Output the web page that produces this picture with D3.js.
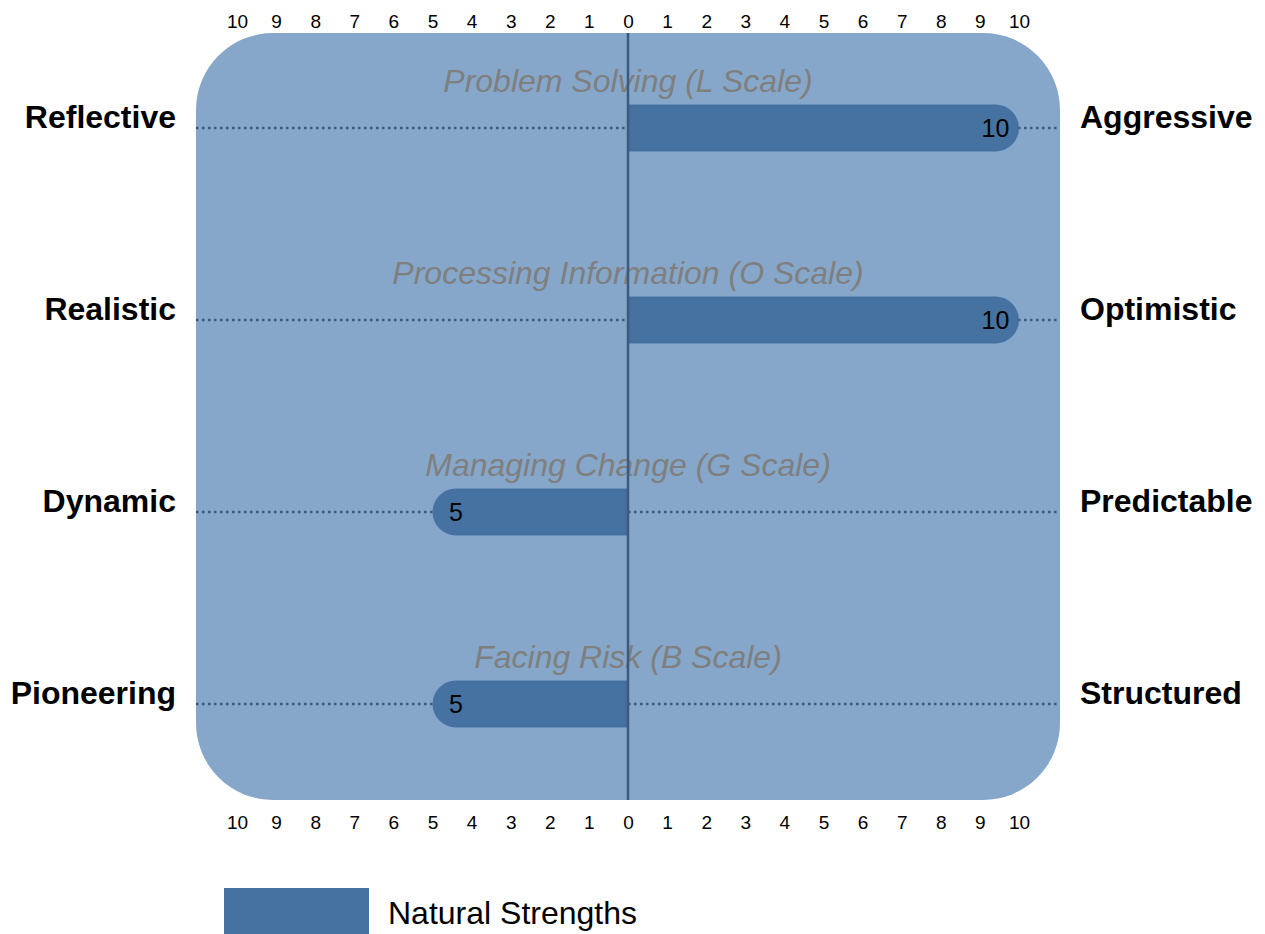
<!DOCTYPE html>
<html>
<head>
<meta charset="utf-8">
<script src="https://cdn.jsdelivr.net/npm/d3@7"></script>
<style>
	body { margin: 0; background: #ffffff; }
	#chart svg { display: block; font-family: "Liberation Sans", Arial, sans-serif; }
</style>
</head>
<body>
<div id="chart"></div>
<script>
// Chart data
var scales = [
	"Problem Solving (L Scale)",
	"Processing Information (O Scale)",
	"Managing Change (G Scale)",
	"Facing Risk (B Scale)",
];
var leftLabels = ["Reflective", "Realistic", "Dynamic", "Pioneering"];
var rightLabels = ["Aggressive", "Optimistic", "Predictable", "Structured"];
// negative = towards left label, positive = towards right label
var strengths = [10, 10, -5, -5];
var tickValues = [-10, -9, -8, -7, -6, -5, -4, -3, -2, -1, 0, 1, 2, 3, 4, 5, 6, 7, 8, 9, 10];
var legendLabel = "Natural Strengths";

drawChart();

function drawChart() {
	var width = 1265,
		height = 934;
	var svg = d3
		.select("#chart")
		.append("svg")
		.attr("width", width)
		.attr("height", height);

	var bgColor = "#86a7c9",
		barColor = "#4672a1",
		lineColor = "#3a5a80";

	// Scales
	var x = d3.scaleLinear().domain([-10, 10]).range([237, 1019]);
	var y = d3.scaleBand().domain(scales).range([32, 800]);
	var rowY = function (i) {
		return y(scales[i]) + y.bandwidth() / 2;
	};

	// Rounded background panel
	svg
		.append("rect")
		.attr("x", 196)
		.attr("y", 33)
		.attr("width", 864)
		.attr("height", 767)
		.attr("rx", 77)
		.attr("ry", 77)
		.attr("fill", bgColor);

	// Top and bottom axes (labels only)
	var fmt = function (d) {
		return Math.abs(d);
	};
	var gTop = svg
		.append("g")
		.attr("transform", "translate(0, 28)")
		.call(d3.axisTop(x).tickValues(tickValues).tickSize(0).tickPadding(0).tickFormat(fmt));
	var gBottom = svg
		.append("g")
		.attr("transform", "translate(0, 810)")
		.call(d3.axisBottom(x).tickValues(tickValues).tickSize(0).tickPadding(0).tickFormat(fmt));
	[gTop, gBottom].forEach(function (g) {
		g.select(".domain").remove();
		g.selectAll("text")
			.attr("font-size", 19)
			.attr("fill", "#000")
			.attr("font-family", "Liberation Sans, Arial, sans-serif");
	});
	gTop.selectAll("text").attr("dy", 0);
	gBottom.selectAll("text").attr("dy", "1em").attr("y", 0);

	// Dotted guide lines
	svg
		.selectAll(".guide")
		.data(scales)
		.enter()
		.append("line")
		.attr("x1", 196)
		.attr("x2", 1058)
		.attr("y1", function (d, i) {
			return rowY(i);
		})
		.attr("y2", function (d, i) {
			return rowY(i);
		})
		.attr("stroke", lineColor)
		.attr("stroke-width", 2.5)
		.attr("stroke-dasharray", "2.5,3.5");

	// Scale titles
	svg
		.selectAll(".title")
		.data(scales)
		.enter()
		.append("text")
		.attr("x", x(0))
		.attr("y", function (d, i) {
			return rowY(i) - 36;
		})
		.attr("text-anchor", "middle")
		.attr("font-size", 32)
		.attr("font-style", "italic")
		.attr("fill", "#7f7f7f")
		.text(function (d) {
			return d;
		});

	// Bars with a rounded outer end
	var barH = 47,
		r = barH / 2;
	svg
		.selectAll(".bar")
		.data(strengths)
		.enter()
		.append("path")
		.attr("fill", barColor)
		.attr("d", function (d, i) {
			var top = rowY(i) - r,
				bottom = rowY(i) + r;
			var x0 = x(0),
				x1 = x(d);
			var p = d3.path();
			if (d >= 0) {
				p.moveTo(x0, top);
				p.lineTo(x1 - r, top);
				p.arc(x1 - r, rowY(i), r, -Math.PI / 2, Math.PI / 2);
				p.lineTo(x0, bottom);
			} else {
				p.moveTo(x0, top);
				p.lineTo(x1 + r, top);
				p.arc(x1 + r, rowY(i), r, -Math.PI / 2, Math.PI / 2, true);
				p.lineTo(x0, bottom);
			}
			p.closePath();
			return p.toString();
		});

	// Value labels inside the rounded end
	svg
		.selectAll(".value")
		.data(strengths)
		.enter()
		.append("text")
		.attr("x", function (d) {
			return d >= 0 ? x(d) - r : x(d) + r;
		})
		.attr("y", function (d, i) {
			return rowY(i) + 9;
		})
		.attr("text-anchor", "middle")
		.attr("font-size", 25)
		.attr("fill", "#000")
		.text(function (d) {
			return Math.abs(d);
		});

	// Centre line
	svg
		.append("line")
		.attr("x1", x(0))
		.attr("x2", x(0))
		.attr("y1", 33)
		.attr("y2", 800)
		.attr("stroke", lineColor)
		.attr("stroke-width", 2.5);

	// Side labels
	svg
		.selectAll(".left-label")
		.data(leftLabels)
		.enter()
		.append("text")
		.attr("x", 176)
		.attr("y", function (d, i) {
			return rowY(i);
		})
		.attr("text-anchor", "end")
		.attr("font-size", 32)
		.attr("font-weight", "bold")
		.attr("fill", "#000")
		.text(function (d) {
			return d;
		});
	svg
		.selectAll(".right-label")
		.data(rightLabels)
		.enter()
		.append("text")
		.attr("x", 1080)
		.attr("y", function (d, i) {
			return rowY(i);
		})
		.attr("text-anchor", "start")
		.attr("font-size", 32)
		.attr("font-weight", "bold")
		.attr("fill", "#000")
		.text(function (d) {
			return d;
		});

	// Legend
	svg
		.append("rect")
		.attr("x", 224)
		.attr("y", 888)
		.attr("width", 145)
		.attr("height", 47)
		.attr("fill", barColor);
	svg
		.append("text")
		.attr("x", 388)
		.attr("y", 924)
		.attr("font-size", 32)
		.attr("fill", "#000")
		.text(legendLabel);
}
</script>
</body>
</html>
